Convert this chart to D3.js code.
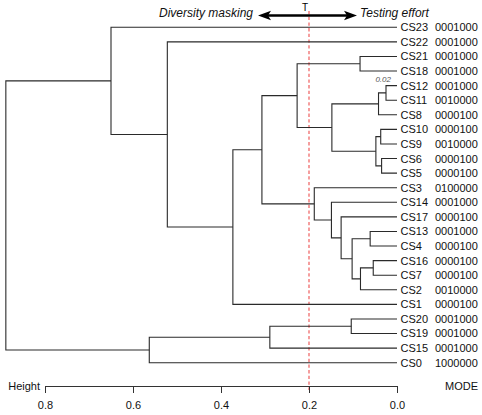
<!DOCTYPE html>
<html>
<head>
<meta charset="utf-8">
<script src="https://cdn.jsdelivr.net/npm/d3@7"></script>
<style>
    body { margin: 0; background: #fff; }
    svg { display: block; font-family: "Liberation Sans", Arial, sans-serif; }
</style>
</head>
<body>
<div id="chart"></div>
<script>

//******************************************************************************
//**  Data
//******************************************************************************
var leaves = ["CS23","CS22","CS21","CS18","CS12","CS11","CS8","CS10","CS9","CS6",
    "CS5","CS3","CS14","CS17","CS13","CS4","CS16","CS7","CS2","CS1","CS20","CS19",
    "CS15","CS0"];

var modes = ["0001000","0001000","0001000","0001000","0001000","0010000",
    "0000100","0000100","0010000","0000100","0000100","0100000","0001000",
    "0000100","0001000","0000100","0000100","0000100","0010000","0000100",
    "0001000","0001000","0001000","1000000"];

//merge table (hclust style), m1 = first row, m2 = second row...
var merges = [
    ["CS12","CS11"], ["m1","CS8"], ["CS10","CS9"], ["CS6","CS5"], ["m3","m4"],
    ["CS16","CS7"], ["CS13","CS4"], ["m6","CS2"], ["CS21","CS18"], ["m7","m8"],
    ["CS20","CS19"], ["CS17","m10"], ["m2","m5"], ["CS14","m12"], ["CS3","m14"],
    ["m9","m13"], ["m11","CS15"], ["m16","m15"], ["m18","CS1"], ["CS22","m19"],
    ["m17","CS0"], ["CS23","m20"], ["m22","m21"]
];

var mergeHeights = [0.025, 0.042, 0.037, 0.035, 0.048, 0.054, 0.061, 0.083, 0.084,
    0.102, 0.104, 0.127, 0.148, 0.149, 0.188, 0.227, 0.289, 0.307, 0.373, 0.522,
    0.563, 0.650, 0.889];

var heightTicks = [0.8, 0.6, 0.4, 0.2, 0.0];
var threshold = 0.2;
var thresholdLabel = "T";
var nodeNote = {node: "m1", text: "0.02"};


//******************************************************************************
//**  Chart
//******************************************************************************
var width = 482, height = 415;

var svg = d3.select("#chart").append("svg")
    .attr("width", width)
    .attr("height", height);

var x = d3.scaleLinear().domain([0, 0.8]).range([397, 45]);
var y = d3.scalePoint().domain(leaves).range([27.3, 362.7]);

//**************************************************************************
//** positions of leaves and merge nodes
//**************************************************************************
var pos = {};
leaves.forEach(function(name){
    pos[name] = {x: x(0), y: y(name)};
});
merges.forEach(function(m, i){
    var a = pos[m[0]], b = pos[m[1]];
    pos["m" + (i+1)] = {x: x(mergeHeights[i]), y: (a.y + b.y)/2};
});

//**************************************************************************
//** threshold line (drawn first, under the tree)
//**************************************************************************
svg.append("line")
    .attr("x1", x(threshold)).attr("x2", x(threshold))
    .attr("y1", 11).attr("y2", 390)
    .attr("stroke", "#f06a6a")
    .attr("stroke-width", 1.3)
    .attr("stroke-dasharray", "3.3,2.4");

//**************************************************************************
//** dendrogram
//**************************************************************************
var tree = svg.append("g");
merges.forEach(function(m, i){
    var a = pos[m[0]], b = pos[m[1]], n = pos["m" + (i+1)];
    tree.append("path")
        .attr("d", "M" + a.x + "," + a.y + "H" + n.x + "V" + b.y + "H" + b.x)
        .attr("fill", "none")
        .attr("stroke", "#2a2a2a")
        .attr("stroke-width", 1.1);
});

//note next to the smallest merge
var nn = pos[nodeNote.node];
svg.append("text")
    .attr("x", nn.x + 5)
    .attr("y", y("CS12") - 4)
    .attr("text-anchor", "end")
    .style("font-size", "8px")
    .style("font-style", "italic")
    .attr("fill", "#555")
    .text(nodeNote.text);

//**************************************************************************
//** leaf labels
//**************************************************************************
var labels = svg.append("g").style("font-size", "11px").attr("fill", "#111");
leaves.forEach(function(name, i){
    labels.append("text")
        .attr("x", x(0) + 3.5)
        .attr("y", y(name))
        .attr("dy", "0.36em")
        .text(name);
    labels.append("text")
        .attr("x", x(0) + 38)
        .attr("y", y(name))
        .attr("dy", "0.36em")
        .text(modes[i]);
});

//**************************************************************************
//** axis
//**************************************************************************
var axisY = 386;
var axis = svg.append("g")
    .attr("transform", "translate(0," + axisY + ")")
    .call(d3.axisBottom(x)
        .tickValues(heightTicks)
        .tickFormat(d3.format(".1f"))
        .tickSize(7)
        .tickSizeOuter(0)
        .tickPadding(8));
axis.select(".domain").attr("stroke", "#333");
axis.selectAll(".tick line").attr("stroke", "#333");
axis.selectAll(".tick text")
    .style("font-size", "11px")
    .style("font-family", "'Liberation Sans', Arial, sans-serif")
    .attr("fill", "#111");

svg.append("text")
    .attr("x", 40).attr("y", axisY)
    .attr("dy", "0.36em")
    .attr("text-anchor", "end")
    .style("font-size", "11px")
    .attr("fill", "#111")
    .text("Height");

svg.append("text")
    .attr("x", x(0) + 48).attr("y", axisY)
    .attr("dy", "0.36em")
    .style("font-size", "11px")
    .attr("fill", "#111")
    .text("MODE");

//**************************************************************************
//** top annotation
//**************************************************************************
var tx = x(threshold), ay = 15.5;
var left = tx - 51, right = tx + 48;
svg.append("line")
    .attr("x1", left + 8).attr("x2", right - 8)
    .attr("y1", ay).attr("y2", ay)
    .attr("stroke", "#000")
    .attr("stroke-width", 2.6);
svg.append("path")
    .attr("d", "M" + left + "," + ay + "L" + (left + 13) + "," + (ay - 4.8) +
        "L" + (left + 10) + "," + ay + "L" + (left + 13) + "," + (ay + 4.8) + "Z")
    .attr("fill", "#000");
svg.append("path")
    .attr("d", "M" + right + "," + ay + "L" + (right - 13) + "," + (ay - 4.8) +
        "L" + (right - 10) + "," + ay + "L" + (right - 13) + "," + (ay + 4.8) + "Z")
    .attr("fill", "#000");

svg.append("text")
    .attr("x", tx - 1).attr("y", 10.5)
    .attr("text-anchor", "end")
    .style("font-size", "10px")
    .attr("fill", "#000")
    .text(thresholdLabel);

svg.append("text")
    .attr("x", left - 5).attr("y", 13.5)
    .attr("dy", "0.3em")
    .attr("text-anchor", "end")
    .style("font-size", "12px")
    .style("font-style", "italic")
    .attr("fill", "#111")
    .text("Diversity masking");

svg.append("text")
    .attr("x", right + 3).attr("y", 13.5)
    .attr("dy", "0.3em")
    .style("font-size", "12px")
    .style("font-style", "italic")
    .attr("fill", "#111")
    .text("Testing effort");

</script>
</body>
</html>
